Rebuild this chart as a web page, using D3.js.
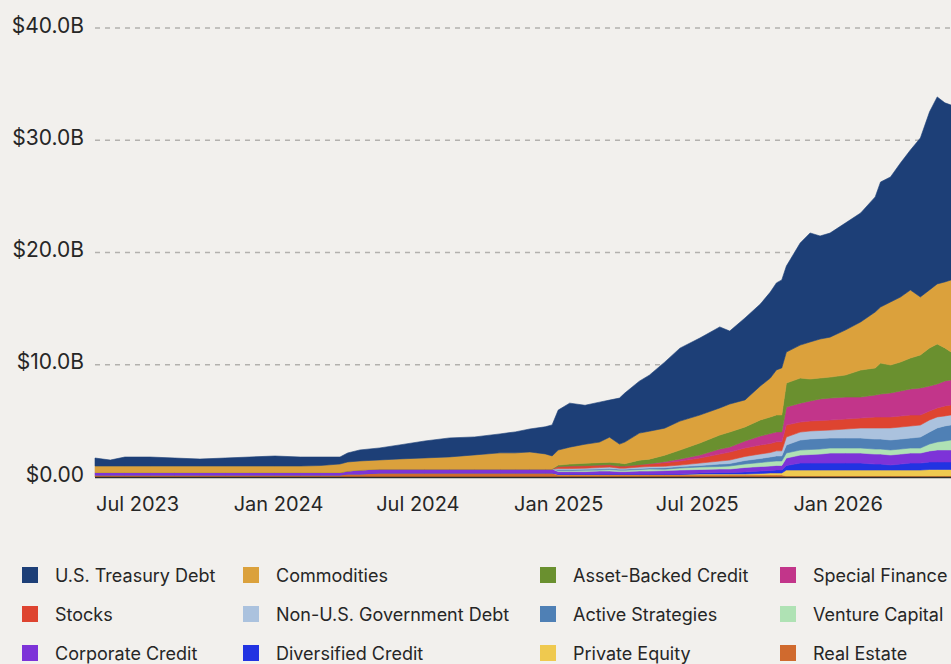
<!DOCTYPE html>
<html>
<head>
<meta charset="utf-8">
<script src="https://cdn.jsdelivr.net/npm/d3@7"></script>
<style>
  html, body { margin: 0; padding: 0; background: #f2f0ed; }
  svg { display: block; font-family: Inter, "Helvetica Neue", Arial, sans-serif; }
</style>
</head>
<body>
<svg id="chart" width="951" height="664"></svg>
<script>
// Tokenized real-world assets, value by asset class ($B)
const dates = [
  "2023-05-07","2023-05-27","2023-06-15","2023-07-18","2023-08-19","2023-09-21","2023-10-24","2023-11-25","2023-12-28","2024-01-30","2024-02-25","2024-03-22",
  "2024-04-01","2024-04-17","2024-05-13","2024-06-08","2024-07-11","2024-08-12","2024-09-14","2024-10-17","2024-11-06","2024-11-25","2024-12-15","2024-12-24",
  "2025-01-01","2025-01-16","2025-02-05","2025-02-24","2025-03-09","2025-03-22","2025-03-29","2025-04-17","2025-04-30","2025-05-20","2025-06-09","2025-07-05",
  "2025-07-31","2025-08-13","2025-09-02","2025-09-22","2025-10-05","2025-10-13","2025-10-20",
  "2025-10-26","2025-11-13","2025-11-26","2025-12-09","2025-12-22","2026-01-11","2026-01-31","2026-02-19","2026-02-26","2026-03-11","2026-03-24","2026-04-06",
  "2026-04-19","2026-05-01","2026-05-11","2026-05-21","2026-05-29"
];

const realEstate = [
  .18,.18,.18,.18,.18,.18,.18,.18,.18,.18,.18,.18,
  .27,.27,.36,.36,.36,.36,.36,.36,.36,.36,.36,.36,
  .18,.18,.18,.18,.18,.18,.18,.18,.18,.18,.18,.18,
  .18,.18,.18,.18,.18,.18,.18,
  .09,.09,.09,.09,.09,.09,.09,.09,.09,.09,.09,.09,
  .09,.09,.09,.09,.09
];
const privateEquity = [
  0,0,0,0,0,0,0,0,0,0,0,0,
  0,0,0,0,0,0,0,0,0,0,0,0,
  .04,.04,.04,.04,.04,.04,.04,.04,.04,.04,.04,.09,
  .09,.09,.09,.13,.18,.18,.18,
  .53,.53,.53,.53,.53,.53,.53,.53,.53,.53,.53,.53,
  .53,.58,.58,.58,.58
];
const diversifiedCredit = [
  0,0,0,0,0,0,0,0,0,0,0,0,
  0,0,0,0,0,0,0,0,0,0,0,0,
  .04,.04,.04,.04,.04,.04,.04,.04,.04,.04,.04,.09,
  .13,.13,.18,.22,.22,.27,.27,
  .40,.62,.62,.62,.62,.62,.62,.53,.53,.45,.53,.62,
  .62,.67,.67,.67,.67
];
const corporateCredit = [
  .22,.22,.22,.22,.22,.22,.22,.22,.22,.22,.22,.22,
  .27,.36,.36,.36,.36,.36,.36,.36,.36,.36,.36,.36,
  .22,.22,.22,.27,.27,.22,.22,.27,.27,.31,.36,.31,
  .31,.31,.40,.40,.40,.40,.40,
  .67,.71,.76,.80,.89,.89,.89,.89,.89,.89,.89,.89,
  .89,.98,1.07,1.07,1.07
];
const ventureCapital = [
  0,0,0,0,0,0,0,0,0,0,0,0,
  0,0,0,0,0,0,0,0,0,0,0,0,
  .09,.09,.13,.09,.13,.13,.13,.13,.18,.13,.18,.22,
  .22,.27,.31,.36,.40,.40,.40,
  .45,.45,.45,.45,.45,.45,.45,.45,.45,.45,.45,.45,
  .45,.62,.71,.80,.89
];
const activeStrategies = [
  0,0,0,0,0,0,0,0,0,0,0,0,
  0,0,0,0,0,0,0,0,0,0,0,0,
  .09,.09,.09,.09,.09,.09,.09,.09,.09,.13,.13,.13,
  .22,.22,.31,.36,.40,.45,.45,
  .71,.89,.94,.94,.89,.89,.89,.89,.89,.89,.89,.89,
  .98,1.07,1.25,1.34,1.34
];
const nonUSGovDebt = [
  0,0,0,0,0,0,0,0,0,0,0,0,
  0,0,0,0,0,0,0,0,0,0,0,0,
  .09,.09,.09,.13,.13,.09,.09,.13,.13,.13,.13,.22,
  .27,.31,.36,.40,.40,.45,.45,
  .71,.71,.71,.71,.71,.80,.89,.98,.98,1.07,1.07,1.07,
  1.07,1.07,.98,.89,.89
];
const stocks = [
  0,0,0,0,0,0,0,0,0,0,0,0,
  0,0,0,0,0,0,0,0,0,0,0,0,
  .18,.22,.22,.22,.22,.18,.18,.22,.22,.31,.36,.45,
  .62,.71,.76,.80,.80,.80,.80,
  1.07,.89,.89,.89,.89,.89,.89,.98,.98,.98,.98,.98,
  .89,.80,.80,.89,.89
];
const specialFinance = [
  0,0,0,0,0,0,0,0,0,0,0,0,
  0,0,0,0,0,0,0,0,0,0,0,0,
  0,0,0,0,0,0,0,0,.04,.09,.18,.27,
  .45,.45,.62,.80,.89,.89,.89,
  1.60,1.69,1.78,1.92,1.96,1.96,1.87,1.96,2.05,2.14,2.23,2.32,
  2.41,2.23,2.14,2.23,2.23
];
const assetBackedCredit = [
  0,0,0,0,0,0,0,0,0,0,0,0,
  0,0,0,0,0,0,0,0,0,0,0,0,
  .13,.18,.22,.22,.22,.27,.22,.40,.40,.58,.80,1.07,
  1.25,1.34,1.25,1.43,1.47,1.51,1.51,
  2.14,2.23,1.96,1.87,1.87,1.96,2.41,2.41,2.76,2.49,2.58,2.76,
  2.94,3.39,3.56,2.94,2.49
];
const commodities = [
  .58,.58,.58,.58,.58,.58,.58,.58,.58,.58,.62,.76,
  .80,.80,.80,.89,.98,1.07,1.25,1.43,1.43,1.51,1.34,1.16,
  1.34,1.51,1.69,1.83,2.23,1.69,1.92,2.41,2.49,2.41,2.58,2.49,
  2.41,2.49,2.41,3.03,3.47,4.01,4.19,
  2.76,2.94,3.30,3.47,3.56,4.01,4.28,4.99,4.99,5.61,5.79,6.06,
  5.17,5.17,5.35,5.88,6.41
];
const usTreasuryDebt = [
  .71,.53,.80,.80,.71,.62,.71,.80,.89,.80,.76,.62,
  .80,.98,1.07,1.25,1.51,1.69,1.60,1.69,1.87,2.05,2.41,2.76,
  3.56,3.92,3.47,3.56,3.30,4.10,4.37,4.63,4.99,5.88,6.50,6.86,
  7.22,6.50,7.30,7.30,7.66,7.75,7.84,
  7.66,9.09,9.71,9.18,9.27,9.53,9.71,10.25,11.14,11.14,11.94,12.47,
  14.16,15.86,16.66,15.95,15.59
];

const yTicks = [0, 10, 20, 30, 40];
const yTickLabels = ["$0.00", "$10.0B", "$20.0B", "$30.0B", "$40.0B"];
const xTicks = ["2023-07-01", "2024-01-01", "2024-07-01", "2025-01-01", "2025-07-01", "2026-01-01"];

// Series, listed in legend order (row by row)
const series = [
  { key: "usTreasuryDebt",    name: "U.S. Treasury Debt",       color: "#1d3f77", values: usTreasuryDebt },
  { key: "commodities",       name: "Commodities",              color: "#dba13c", values: commodities },
  { key: "assetBackedCredit", name: "Asset-Backed Credit",      color: "#6a902f", values: assetBackedCredit },
  { key: "specialFinance",    name: "Special Finance",          color: "#c2358a", values: specialFinance },
  { key: "stocks",            name: "Stocks",                   color: "#de4430", values: stocks },
  { key: "nonUSGovDebt",      name: "Non-U.S. Government Debt", color: "#abc2de", values: nonUSGovDebt },
  { key: "activeStrategies",  name: "Active Strategies",        color: "#4f80b5", values: activeStrategies },
  { key: "ventureCapital",    name: "Venture Capital",          color: "#afe2b4", values: ventureCapital },
  { key: "corporateCredit",   name: "Corporate Credit",         color: "#7d33d8", values: corporateCredit },
  { key: "diversifiedCredit", name: "Diversified Credit",       color: "#2233e2", values: diversifiedCredit },
  { key: "privateEquity",     name: "Private Equity",           color: "#efc94f", values: privateEquity },
  { key: "realEstate",        name: "Real Estate",              color: "#d06a2e", values: realEstate }
];

const parse = d3.utcParse("%Y-%m-%d");
const rows = dates.map((d, i) => {
  const r = { date: parse(d) };
  series.forEach(s => { r[s.key] = s.values[i]; });
  return r;
});

const svg = d3.select("#chart");
const W = 951;
const textColor = "#262626";

svg.append("rect").attr("width", W).attr("height", 664).attr("fill", "#f2f0ed");

const x = d3.scaleUtc()
  .domain(d3.extent(rows, d => d.date))
  .range([95, 951]);
const y = d3.scaleLinear().domain([0, 40]).range([477, 28]);

// Horizontal dashed gridlines
svg.append("g")
  .selectAll("line")
  .data(yTicks.filter(v => v > 0))
  .join("line")
  .attr("x1", 95).attr("x2", W)
  .attr("y1", d => y(d)).attr("y2", d => y(d))
  .attr("stroke", "#b3b1ae")
  .attr("stroke-width", 1.4)
  .attr("stroke-dasharray", "5,5");

// Y labels
svg.append("g")
  .selectAll("text")
  .data(yTicks)
  .join("text")
  .attr("x", 84)
  .attr("y", d => y(d) - 3)
  .attr("text-anchor", "end")
  .attr("dominant-baseline", "central")
  .attr("font-size", 21)
  .attr("fill", textColor)
  .text((d, i) => yTickLabels[i]);

// Stacked areas, bottom layer last in legend order
const keysBottomUp = series.map(s => s.key).reverse();
const stacked = d3.stack().keys(keysBottomUp)(rows);
const colorOf = Object.fromEntries(series.map(s => [s.key, s.color]));

const area = d3.area()
  .x(d => x(d.data.date))
  .y0(d => y(d[0]))
  .y1(d => y(d[1]))
  .curve(d3.curveLinear);

svg.append("g")
  .selectAll("path")
  .data(stacked)
  .join("path")
  .attr("fill", d => colorOf[d.key])
  .attr("stroke", d => colorOf[d.key])
  .attr("stroke-width", 0.6)
  .attr("d", area);

// Baseline
svg.append("line")
  .attr("x1", 95).attr("x2", W)
  .attr("y1", y(0) + 0.5).attr("y2", y(0) + 0.5)
  .attr("stroke", "#2b2b2b").attr("stroke-width", 1.5);

// X axis labels
const xAxis = d3.axisBottom(x)
  .tickValues(xTicks.map(parse))
  .tickSize(0)
  .tickPadding(0)
  .tickFormat(d3.utcFormat("%b %Y"));

const gx = svg.append("g").attr("transform", "translate(0,497)").call(xAxis);
gx.select(".domain").remove();
gx.selectAll("text")
  .attr("font-size", 20)
  .attr("font-family", "Inter, 'Helvetica Neue', Arial, sans-serif")
  .attr("fill", textColor);

// Legend, four columns by three rows
const legendCols = [22, 243, 540, 780];
const legendRows = [575, 614, 653];
const legend = svg.append("g");
series.forEach((s, i) => {
  const cx = legendCols[i % 4];
  const cy = legendRows[Math.floor(i / 4)];
  legend.append("rect")
    .attr("x", cx).attr("y", cy - 8)
    .attr("width", 16).attr("height", 16)
    .attr("fill", s.color);
  legend.append("text")
    .attr("x", cx + 33).attr("y", cy)
    .attr("dominant-baseline", "central")
    .attr("font-size", 18)
    .attr("fill", textColor)
    .text(s.name);
});
</script>
</body>
</html>
